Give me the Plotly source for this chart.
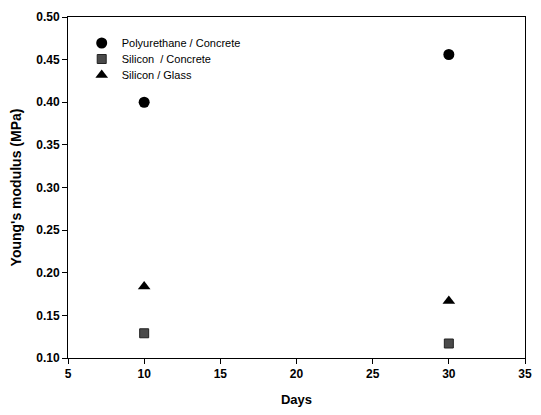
import plotly.graph_objects as go

days = [10, 30]
polyurethane_concrete = [0.400, 0.456]
silicon_concrete = [0.129, 0.117]
silicon_glass = [0.184, 0.167]

x_ticks = [5, 10, 15, 20, 25, 30, 35]
y_ticks = [0.10, 0.15, 0.20, 0.25, 0.30, 0.35, 0.40, 0.45, 0.50]

# page body has an 8px margin, so the figure is sized to fit the 541x415 window
W, H = 525, 399
ML, MR, MT, MB = 60, 8, 9, 49
plot_h = H - MT - MB
PAGE_OFF = 8


def leg_y(page_px):
    return 1 - (page_px - PAGE_OFF - MT) / plot_h


fig = go.Figure()
fig.add_trace(go.Scatter(x=days, y=polyurethane_concrete, mode="markers",
                         name="Polyurethane / Concrete", legend="legend",
                         marker=dict(symbol="circle", size=11, color="black")))
fig.add_trace(go.Scatter(x=days, y=silicon_concrete, mode="markers",
                         name="Silicon  / Concrete", legend="legend2",
                         marker=dict(symbol="square", size=9, color="#4a4a4a",
                                     line=dict(color="#222222", width=1))))
fig.add_trace(go.Scatter(x=days, y=silicon_glass, mode="markers",
                         name="Silicon / Glass", legend="legend3",
                         marker=dict(symbol="triangle-up", size=11, color="black")))

font_family = "Liberation Sans, Arial, sans-serif"
leg_common = dict(x=0.03, xanchor="left", yanchor="middle",
                  bgcolor="rgba(0,0,0,0)", font=dict(size=11, family=font_family),
                  itemsizing="trace")

fig.update_layout(
    width=W, height=H,
    margin=dict(l=ML, r=MR, t=MT, b=MB),
    paper_bgcolor="white", plot_bgcolor="white",
    font=dict(family=font_family, color="black"),
    showlegend=True,
    legend=dict(y=leg_y(43), **leg_common),
    legend2=dict(y=leg_y(59), **leg_common),
    legend3=dict(y=leg_y(75), **leg_common),
    xaxis=dict(range=[5, 35], tickvals=x_ticks, ticktext=[str(v) for v in x_ticks],
               showgrid=False, zeroline=False, showline=True, linecolor="black",
               linewidth=1, mirror=True, ticks="outside", ticklen=5,
               tickcolor="black", automargin=False, ticklabeloverflow="allow",
               tickfont=dict(size=12, family=font_family, color="black", weight="bold"),
               title=dict(text="<b>Days</b>", font=dict(size=13), standoff=18)),
    yaxis=dict(range=[0.1, 0.5], tickvals=y_ticks,
               ticktext=[f"{v:.2f}" for v in y_ticks],
               showgrid=False, zeroline=False, showline=True, linecolor="black",
               linewidth=1, mirror=True, ticks="outside", ticklen=5,
               tickcolor="black", automargin=False,
               tickfont=dict(size=12, family=font_family, color="black", weight="bold"),
               title=dict(text="<b>Young's modulus (MPa)</b>", font=dict(size=14), standoff=14)),
)

fig.write_html("out.html")
